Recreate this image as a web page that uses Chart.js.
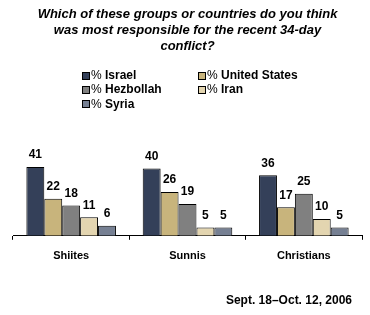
<!DOCTYPE html>
<html>
<head>
<meta charset="utf-8">
<script src="https://cdn.jsdelivr.net/npm/chart.js@4/dist/chart.umd.min.js"></script>
<style>
  html, body { margin: 0; padding: 0; background: #fff; }
  #wrap { position: relative; width: 370px; height: 315px; }
  #legend {
    position: absolute; left: 82px; top: 68px;
    display: grid; grid-template-columns: 116px 116px; row-gap: 0;
    font-family: Arial, "Liberation Sans", sans-serif; font-size: 12px; color: #000;
  }
  .legend-item { height: 14.3px; line-height: 14px; white-space: nowrap; }
  .legend-dot {
    display: inline-block; width: 6px; height: 6px; border: 1px solid #000;
    vertical-align: -0.5px; margin-right: 1px;
  }
  .legend-item b { font-weight: bold; }
</style>
</head>
<body>
<div id="wrap">
  <canvas id="barChart" width="370" height="315"></canvas>
  <div id="legend"></div>
</div>
<script>
// ------ DATA ------
const titleLines = [
  'Which of these groups or countries do you think',
  'was most responsible for the recent 34-day',
  'conflict?'
];
const groups = ['Shiites', 'Sunnis', 'Christians'];
const seriesNames = ['% Israel', '% United States', '% Hezbollah', '% Iran', '% Syria'];
const israel    = [41, 40, 36];
const usa       = [22, 26, 17];
const hezbollah = [18, 19, 25];
const iran      = [11, 5, 10];
const syria     = [6, 5, 5];
const footnote  = 'Sept. 18\u2013Oct. 12, 2006';

const COLORS = ['#344059', '#c8b47c', '#808080', '#e3d5b0', '#768093'];
const FONT = 'Arial, "Liberation Sans", sans-serif';

// Custom legend (2 columns)
const legendEl = document.getElementById('legend');
legendEl.innerHTML = seriesNames.map((n, i) =>
  `<span class="legend-item"><span class="legend-dot" style="background:${COLORS[i]}"></span>% <b>${n.slice(2)}</b></span>`
).join('');

// value labels above bars + footnote
const valueLabels = {
  id: 'valueLabels',
  afterDatasetsDraw(chart) {
    const c = chart.ctx;
    c.save();
    c.font = 'bold 12px ' + FONT;
    c.fillStyle = '#000';
    c.textAlign = 'center';
    c.textBaseline = 'middle';
    chart.data.datasets.forEach((ds, i) => {
      chart.getDatasetMeta(i).data.forEach((bar, j) => {
        c.fillText(ds.data[j], bar.x, bar.y - 12);
      });
    });
    c.font = 'bold 12px ' + FONT;
    c.textAlign = 'right';
    c.fillText(footnote, 352, 301);
    c.restore();
  }
};

const vals = [israel, usa, hezbollah, iran, syria];

new Chart(document.getElementById('barChart'), {
  type: 'bar',
  data: {
    labels: groups,
    datasets: seriesNames.map((n, i) => ({
      label: n,
      data: vals[i],
      backgroundColor: COLORS[i],
      borderColor: '#000',
      borderWidth: 1,
      borderSkipped: 'bottom',
      categoryPercentage: 0.77,
      barPercentage: 1.0
    }))
  },
  options: {
    responsive: false,
    animation: false,
    layout: { padding: { left: 13, right: 8, top: 0, bottom: 42 } },
    plugins: {
      legend: { display: false },
      tooltip: { enabled: false },
      title: {
        display: true,
        text: titleLines,
        color: '#000',
        font: { family: FONT, size: 13, weight: 'bold', style: 'italic', lineHeight: '16px' },
        padding: { top: 6, bottom: 81 }
      }
    },
    scales: {
      x: {
        grid: { display: true, drawOnChartArea: false, offset: true, color: '#000', tickLength: 4, tickWidth: 1 },
        border: { display: true, color: '#000', width: 1 },
        ticks: { color: '#000', font: { family: FONT, size: 11, weight: 'bold' }, padding: 10 }
      },
      y: {
        display: false,
        min: 0,
        max: 60
      }
    }
  },
  plugins: [valueLabels]
});
</script>
</body>
</html>
